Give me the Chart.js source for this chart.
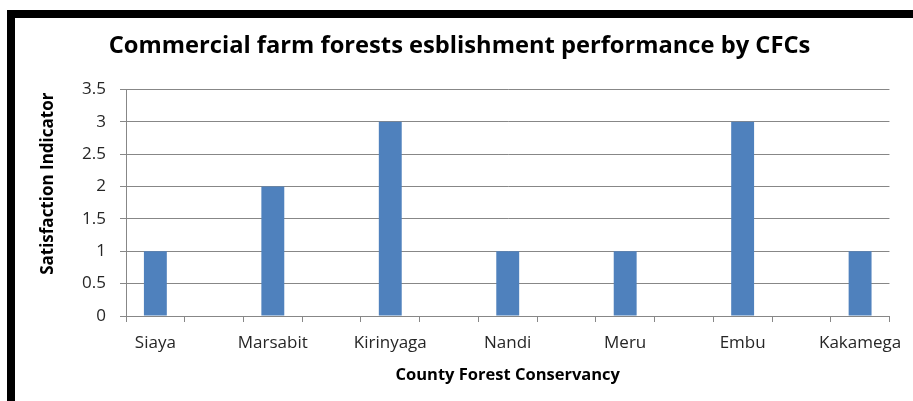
<!DOCTYPE html>
<html>
<head>
<meta charset="utf-8">
<script src="https://cdn.jsdelivr.net/npm/chart.js@4.4.1/dist/chart.umd.min.js"></script>
<style>
  html, body { margin: 0; padding: 0; background: #fff; }
  #wrap { position: relative; width: 913px; height: 401px; overflow: hidden; }
  #chart { position: absolute; left: 0; top: 0; }
  .frame-top { position: absolute; left: 7px; right: 0; top: 10px; height: 8px; background: #000; }
  .frame-left { position: absolute; left: 7px; top: 10px; bottom: 0; width: 8px; background: #000; }
</style>
</head>
<body>
<div id="wrap">
  <canvas id="chart" width="913" height="401"></canvas>
  <div class="frame-top"></div>
  <div class="frame-left"></div>
</div>
<script>
// Категории с пустыми промежутками между ними, как в исходнике (деления оси через одно).
const categories = ["Siaya", "", "Marsabit", "", "Kirinyaga", "", "Nandi", "", "Meru", "", "Embu", "", "Kakamega"];
const satisfaction = [1, null, 2, null, 3, null, 1, null, 1, null, 3, null, 1];
const yTicks = [0, 0.5, 1, 1.5, 2, 2.5, 3, 3.5];

const TITLE = "Commercial farm forests esblishment performance by CFCs";
const X_TITLE = "County Forest Conservancy";
const Y_TITLE = "Satisfaction Indicator";

const FONT = "'Open Sans', sans-serif";
const TEXT_COLOR = "#262626";
const GRID = "#878787";
const BAR = "#4f81bd";

// Подпись оси Y: в исходнике она чуть выше центра области графика,
// встроенный заголовок оси так сдвинуть нельзя — рисуем сами.
const yTitlePlugin = {
  id: "yTitle",
  afterDraw(chart) {
    const { ctx, chartArea } = chart;
    ctx.save();
    ctx.translate(48, (chartArea.top + chartArea.bottom) / 2 - 19);
    ctx.rotate(-Math.PI / 2);
    ctx.font = `bold 17px ${FONT}`;
    ctx.fillStyle = "#000";
    ctx.textAlign = "center";
    ctx.textBaseline = "middle";
    ctx.fillText(Y_TITLE, 0, 0);
    ctx.restore();
  },
};

new Chart(document.getElementById("chart").getContext("2d"), {
  type: "bar",
  data: {
    labels: categories,
    datasets: [{
      label: Y_TITLE,
      data: satisfaction,
      backgroundColor: BAR,
      borderWidth: 0,
      categoryPercentage: 1,
      barPercentage: 0.39,
    }],
  },
  plugins: [yTitlePlugin],
  options: {
    responsive: false,
    animation: false,
    // левый отступ побольше — так заголовок встаёт по центру как в исходнике
    layout: { padding: { left: 27, right: 21, top: 0, bottom: 0 } },
    plugins: {
      legend: { display: false },
      tooltip: { enabled: false },
      title: {
        display: true,
        text: TITLE,
        color: "#000",
        font: { family: FONT, size: 23.7, weight: "bold" },
        padding: { top: 32, bottom: 29 },
      },
    },
    scales: {
      x: {
        offset: true,
        grid: { display: true, drawOnChartArea: false, drawTicks: true, tickLength: 6, color: GRID, offset: true },
        border: { color: GRID },
        ticks: { color: TEXT_COLOR, font: { family: FONT, size: 17 }, padding: 11, maxRotation: 0, autoSkip: false },
        title: { display: true, text: X_TITLE, color: "#000", font: { family: FONT, size: 16.5, weight: "bold" }, padding: { top: 0, bottom: 16 } },
        afterFit: (s) => { s.height = 85; },
      },
      y: {
        min: 0,
        max: 3.5,
        afterBuildTicks: (s) => { s.ticks = yTicks.map((v) => ({ value: v })); },
        grid: { color: GRID, tickLength: 6 },
        border: { color: GRID },
        ticks: { color: TEXT_COLOR, font: { family: FONT, size: 17 }, padding: 14, callback: (v) => String(v) },
        title: { display: false },
        afterFit: (s) => { s.width = 99; },
      },
    },
  },
});
</script>
</body>
</html>
